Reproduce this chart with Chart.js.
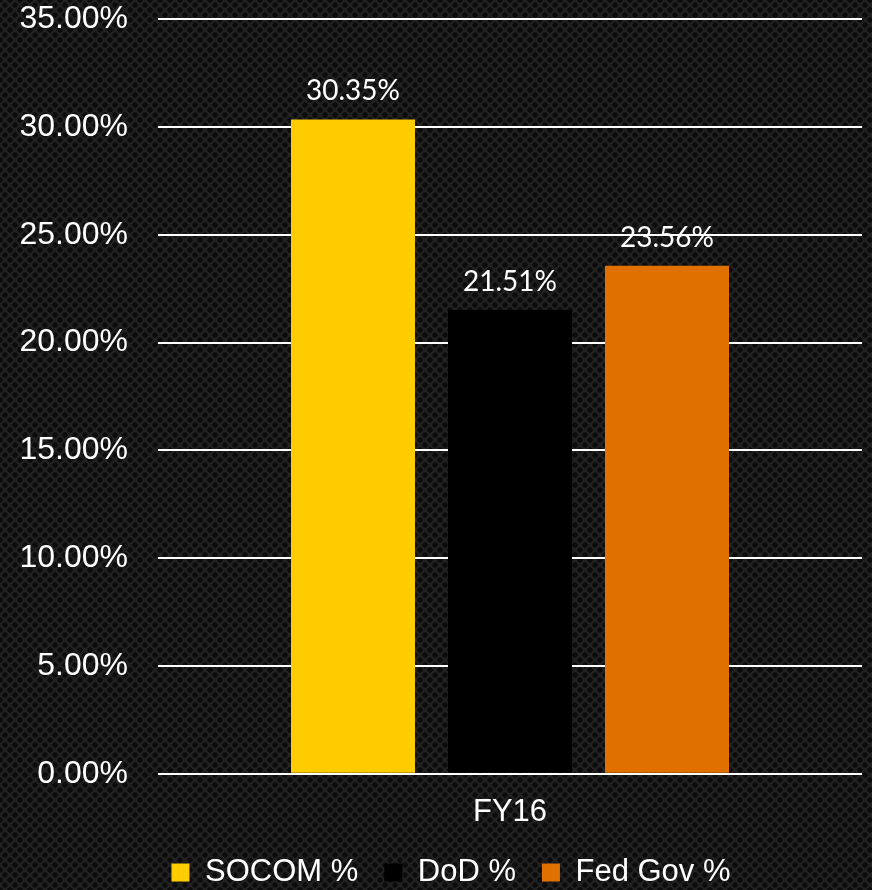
<!DOCTYPE html>
<html>
<head>
<meta charset="utf-8">
<script src="https://cdn.jsdelivr.net/npm/chart.js@4/dist/chart.umd.min.js"></script>
<style>
    html, body { margin: 0; padding: 0; }
    body {
        width: 872px;
        height: 890px;
        background-color: #212121;
        background-image:
            radial-gradient(circle, #0c0c0c 2.4px, transparent 3px),
            radial-gradient(circle, #0c0c0c 2.4px, transparent 3px);
        background-size: 10px 10px;
        background-position: 0 0, 5px 5px;
        overflow: hidden;
    }
    #wrap { position: relative; width: 872px; height: 890px; }
</style>
</head>
<body>
<div id="wrap"><canvas id="chart"></canvas></div>
<script>
const categories = ['FY16'];
const seriesNames = ['SOCOM %', 'DoD %', 'Fed Gov %'];
const socomValues = [30.35];
const dodValues = [21.51];
const fedGovValues = [23.56];
const seriesColors = ['#FFCC00', '#000000', '#E07000'];
const yTicks = [0, 5, 10, 15, 20, 25, 30, 35];

Chart.defaults.font.family = "'Liberation Sans', Arial, sans-serif";
Chart.defaults.color = '#FFFFFF';

// Draw value labels above each bar
const barLabels = {
    id: 'barLabels',
    afterDatasetsDraw(chart) {
        const ctx = chart.ctx;
        ctx.save();
        ctx.font = "28px Lato, 'Open Sans', sans-serif";
        ctx.fillStyle = '#FFFFFF';
        ctx.textAlign = 'center';
        ctx.textBaseline = 'alphabetic';
        chart.data.datasets.forEach((ds, i) => {
            chart.getDatasetMeta(i).data.forEach((bar, j) => {
                ctx.fillText(ds.data[j].toFixed(2) + '%', bar.x, bar.y - 19);
            });
        });
        ctx.restore();
    }
};

// Nudge the legend into the spot it has in the original
const legendShift = {
    id: 'legendShift',
    afterLayout(chart) {
        const lg = chart.legend;
        if (lg) {
            lg.left += 10;
            lg.right += 10;
            lg.top -= 20;
        }
    }
};

new Chart(document.getElementById('chart'), {
    type: 'bar',
    data: {
        labels: categories,
        datasets: [
            { label: seriesNames[0], data: socomValues, backgroundColor: seriesColors[0] },
            { label: seriesNames[1], data: dodValues, backgroundColor: seriesColors[1] },
            { label: seriesNames[2], data: fedGovValues, backgroundColor: seriesColors[2] }
        ]
    },
    options: {
        responsive: true,
        maintainAspectRatio: false,
        animation: false,
        layout: { padding: { left: 20, right: 10, top: 0, bottom: 0 } },
        datasets: {
            bar: { categoryPercentage: 0.669, barPercentage: 0.79 }
        },
        plugins: {
            legend: {
                position: 'bottom',
                maxHeight: 39,
                labels: {
                    color: '#FFFFFF',
                    boxWidth: 18,
                    boxHeight: 18,
                    padding: 26,
                    font: { size: 31 }
                }
            },
            tooltip: { enabled: false }
        },
        scales: {
            x: {
                grid: { display: false, drawTicks: false },
                border: { display: false },
                ticks: { color: '#FFFFFF', font: { size: 31 }, padding: 20 }
            },
            y: {
                min: 0,
                max: 35,
                afterBuildTicks: (scale) => { scale.ticks = yTicks.map(v => ({ value: v })); },
                afterFit: (scale) => { scale.width = 138; },
                grid: {
                    color: '#FFFFFF',
                    lineWidth: 2,
                    drawTicks: true,
                    tickLength: 30,
                    tickColor: 'rgba(0,0,0,0)'
                },
                border: { display: false },
                ticks: {
                    color: '#FFFFFF',
                    font: { size: 32 },
                    padding: 0,
                    callback: (v) => Number(v).toFixed(2) + '%'
                }
            }
        }
    },
    plugins: [barLabels, legendShift]
});
</script>
</body>
</html>
